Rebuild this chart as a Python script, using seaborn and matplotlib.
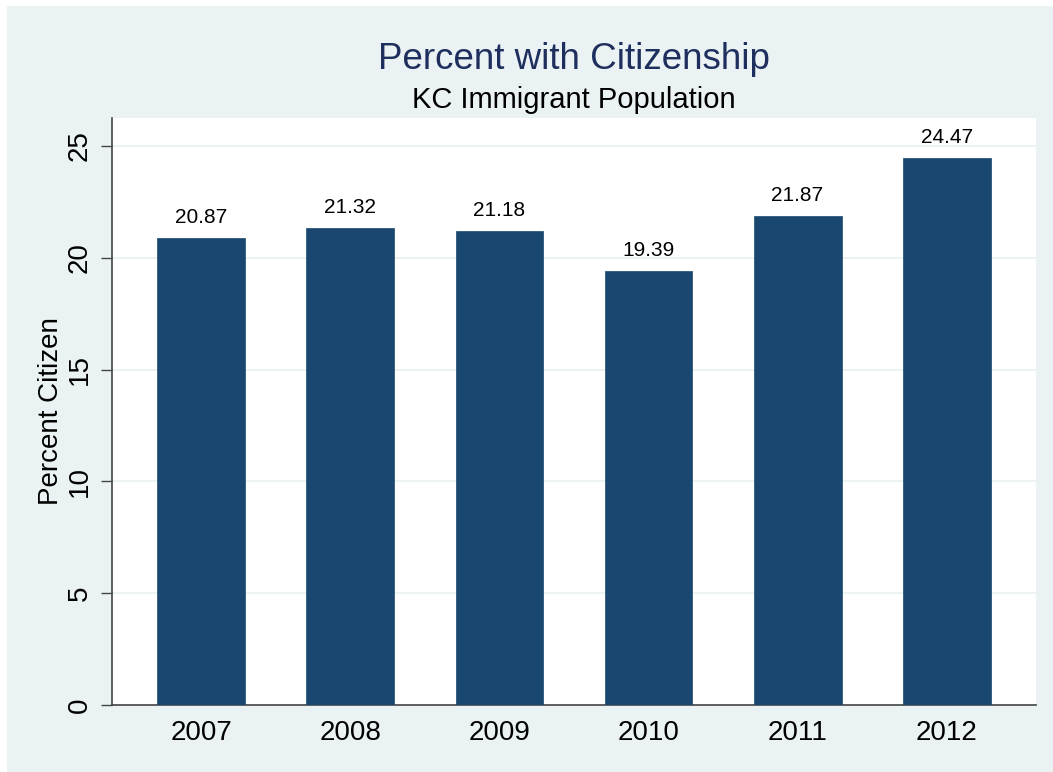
import matplotlib
matplotlib.use("Agg")
import matplotlib.pyplot as plt
import seaborn as sns
import pandas as pd
from matplotlib.patches import Rectangle

# Share of the Kansas City immigrant population holding citizenship
years = ["2007", "2008", "2009", "2010", "2011", "2012"]
pct_citizen = [20.87, 21.32, 21.18, 19.39, 21.87, 24.47]
y_ticks = [0, 5, 10, 15, 20, 25]

df = pd.DataFrame({"year": years, "pct": pct_citizen})

NAVY = "#1A476F"
REGION = "#EAF2F3"
TITLE_COLOR = "#1E2F5E"
AXIS_COLOR = "#454545"

sns.set_theme(style="white")
plt.rcParams["font.family"] = ["Liberation Sans", "DejaVu Sans"]

W, H = 1053, 772
fig = plt.figure(figsize=(W / 100, H / 100), dpi=100)
fig.patch.set_facecolor("white")

# light graph region with a thin white margin on the top and left
fig.patches.append(Rectangle((7 / W, 0), 1 - 7 / W, 1 - 6 / H,
                             transform=fig.transFigure, facecolor=REGION,
                             edgecolor="none", zorder=-10))

ax = fig.add_axes([112 / W, 1 - 705 / H, (1036 - 112) / W, (705 - 118) / H])
ax.set_facecolor("white")

sns.barplot(data=df, x="year", y="pct", color=NAVY, saturation=1,
            width=0.59, ax=ax, zorder=3)
for p in ax.patches:
    p.set_edgecolor(NAVY)
    p.set_linewidth(0.5)

for bar, val in zip(ax.patches, pct_citizen):
    ax.annotate(f"{val:.2f}", (bar.get_x() + bar.get_width() / 2, val),
                xytext=(0, 8), textcoords="offset points",
                ha="center", va="bottom", fontsize=15, color="black", zorder=5)

ax.set_xlim(-0.6, 5.6)
ax.set_ylim(0, 26.25)
ax.set_yticks(y_ticks)
ax.set_yticklabels([str(t) for t in y_ticks], rotation=90, va="center")
ax.yaxis.grid(True, color=REGION, linewidth=1.3, zorder=0)
ax.xaxis.grid(False)
ax.set_axisbelow(True)

ax.tick_params(axis="y", which="major", length=8, width=1, color=AXIS_COLOR,
               pad=6, labelsize=20, labelcolor="black", direction="out", left=True)
ax.tick_params(axis="x", length=0, pad=11, labelsize=20, labelcolor="black")

for side in ("top", "right"):
    ax.spines[side].set_visible(False)
for side in ("left", "bottom"):
    ax.spines[side].set_color(AXIS_COLOR)
    ax.spines[side].set_linewidth(1.2)

ax.set_xlabel("")
ax.set_ylabel("Percent Citizen", fontsize=20, color="black", labelpad=1.5)

cx = (112 + 1036) / 2 / W
fig.text(cx, 1 - 69 / H, "Percent with Citizenship", ha="center",
         va="baseline", fontsize=26.5, color=TITLE_COLOR)
fig.text(cx, 1 - 108 / H, "KC Immigrant Population", ha="center",
         va="baseline", fontsize=21, color="black")

fig.savefig("out.png", dpi=100, facecolor=fig.get_facecolor())
